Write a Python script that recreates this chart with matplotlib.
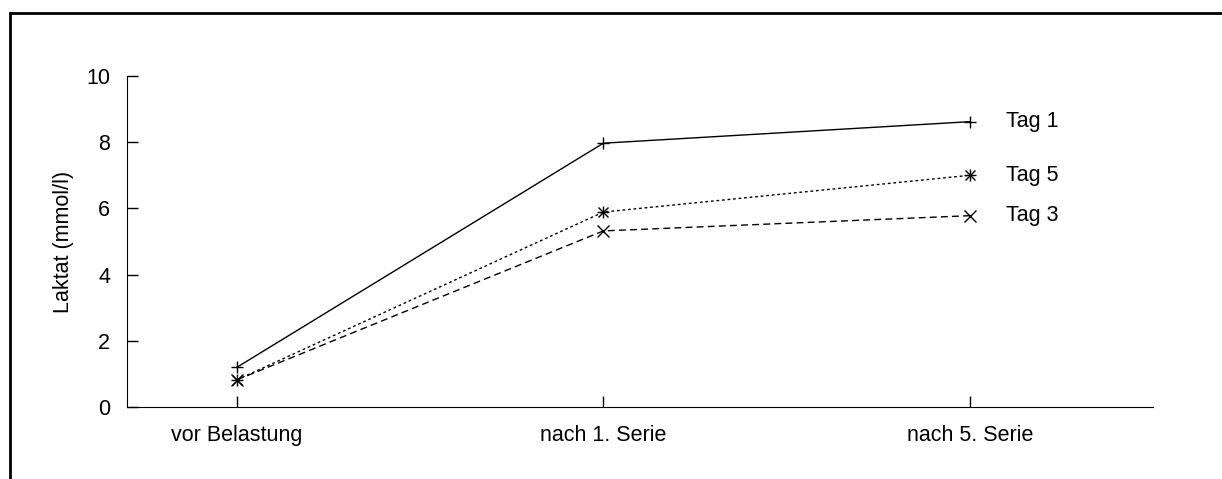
import matplotlib.pyplot as plt
from matplotlib.lines import Line2D

plt.rcParams['font.family'] = ['Liberation Sans', 'DejaVu Sans']

# data
categories = ["vor Belastung", "nach 1. Serie", "nach 5. Serie"]
tag1 = [1.2, 7.97, 8.62]
tag5 = [0.82, 5.89, 7.0]
tag3 = [0.82, 5.32, 5.78]
yticks = [0, 2, 4, 6, 8, 10]

FS = 15.5

fig = plt.figure(figsize=(12.22, 4.79), dpi=100)
ax = fig.add_axes([127 / 1222, 1 - 407 / 479, (1153 - 127) / 1222, (407 - 76) / 479])

x = range(len(categories))
ax.plot(x, tag1, color='black', lw=1, ls='-', marker='+', ms=9, mew=1)
ax.plot(x, tag5, color='black', lw=1, ls=(0, (2, 2)), marker='+', ms=9, mew=1)
ax.plot(x, tag5, color='none', marker='x', ms=7, mew=1, mec='black')
ax.plot(x, tag3, color='black', lw=1, ls=(0, (5, 3)), marker='x', ms=8, mew=1)

# series labels at the right end
ax.text(2.1, tag1[2], "Tag 1", fontsize=FS, va='center', ha='left')
ax.text(2.1, tag5[2], "Tag 5", fontsize=FS, va='center', ha='left')
ax.text(2.1, tag3[2], "Tag 3", fontsize=FS, va='center', ha='left')

ax.set_xlim(-0.3, 2.5)
ax.set_ylim(0, 10)
ax.set_xticks(list(x))
ax.set_xticklabels(categories)
ax.set_yticks(yticks)
ax.set_ylabel("Laktat (mmol/l)", fontsize=FS, labelpad=9)
ax.tick_params(direction='in', length=8, width=1, labelsize=FS)
ax.tick_params(axis='y', pad=12)
ax.tick_params(axis='x', pad=13)
ax.spines['top'].set_visible(False)
ax.spines['right'].set_visible(False)

# frame around the figure (only left and top visible in the crop)
fig.add_artist(Line2D([9.5 / 1222, 9.5 / 1222], [0, 1 - 12.5 / 479], color='black', lw=2, transform=fig.transFigure))
fig.add_artist(Line2D([9.5 / 1222, 1], [1 - 12.5 / 479, 1 - 12.5 / 479], color='black', lw=2, transform=fig.transFigure))

fig.savefig("out.png", dpi=100)
